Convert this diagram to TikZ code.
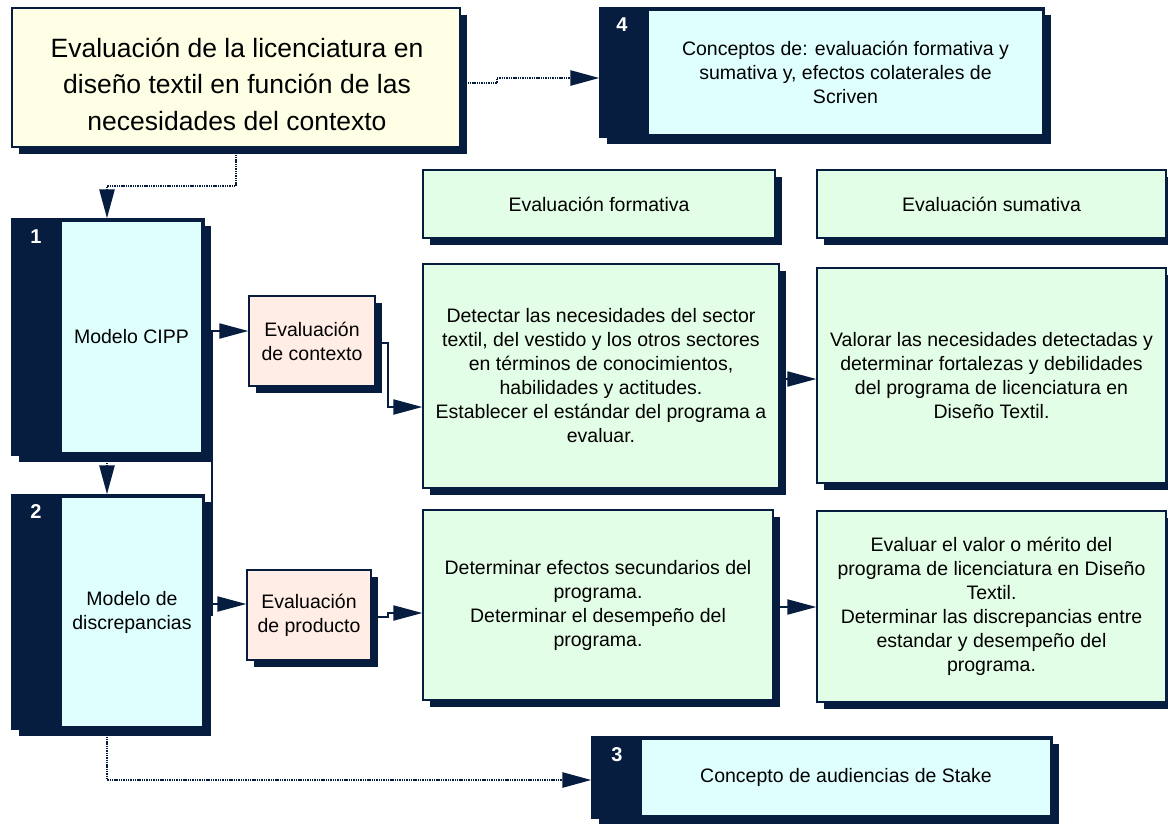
\documentclass[tikz,border=0pt]{standalone}
\usepackage{fontspec}
\setmainfont{Liberation Sans}
\usetikzlibrary{shadows,arrows.meta}
\definecolor{navy}{HTML}{061D3F}
\definecolor{cyanf}{HTML}{DFFFFF}
\definecolor{yelf}{HTML}{FFFFE6}
\definecolor{grnf}{HTML}{E3FEE6}
\definecolor{pchf}{HTML}{FFEDE6}
\begin{document}
\begin{tikzpicture}[x=1pt,y=-1pt,line join=miter,
  shad/.style={drop shadow={shadow xshift=7pt,shadow yshift=-7pt,fill=navy,opacity=1}},
  box/.style={draw=navy,line width=1.3pt,inner sep=0pt,rectangle},
  sz/.style 2 args={minimum width=#1pt,minimum height=#2pt},
  txt/.style={font=\fontsize{19.5}{24}\selectfont,align=center,text=black},
  num/.style={font=\fontsize{20}{24}\selectfont\bfseries,text=white,inner sep=0pt},
  plain/.style={draw=navy,line width=2pt},
  con/.style={plain,-{Triangle[length=29pt,width=15pt]}},
  dotc/.style={con,line width=2.6pt,dash pattern=on 1.4pt off 0.9pt}
]
\useasboundingbox (0,0) rectangle (1168,823);
\fill[white] (0,0) rectangle (1168,823);

% title
\node[box,shad,fill=yelf,sz={448}{139}] (title) at (236,77.5) {};
\node[txt,font=\fontsize{26.5}{36.5}\selectfont] (titletxt) at (237,84)
  {Evaluación de la licenciatura en\\diseño textil en función de las\\necesidades del contexto};

% box 4
\node[box,shad,fill=navy,sz={444}{129}] (b4o) at (822,72.5) {};
\node[box,fill=cyanf,sz={395}{125},txt] (b4) at (845.5,72.5)
  {Conceptos de: evaluación formativa y\\sumativa y, efectos colaterales de\\Scriven};
\node[num] (n4) at (622,25) {4};

% box 1
\node[box,shad,fill=navy,sz={192}{236}] (b1o) at (108,337) {};
\node[box,fill=cyanf,sz={141}{232},txt] (b1) at (131.5,337) {Modelo CIPP};
\node[num] (n1) at (36,237) {1};

% box 2
\node[box,shad,fill=navy,sz={192}{234}] (b2o) at (108,612) {};
\node[box,fill=cyanf,sz={142}{230},txt] (b2) at (132,612) {Modelo de\\discrepancias};
\node[num] (n2) at (36,512) {2};

% box 3
\node[box,shad,fill=navy,sz={460}{81}] (b3o) at (822,777.5) {};
\node[box,fill=cyanf,sz={410}{77},txt] (b3) at (846,777.5) {Concepto de audiencias de Stake};
\node[num] (n3) at (617,755) {3};

% evaluation boxes
\node[box,shad,fill=pchf,sz={126}{90},txt] (ctx) at (312,341) {Evaluación\\de contexto};
\node[box,shad,fill=pchf,sz={124}{90},txt] (prod) at (309,615) {Evaluación\\de producto};

\node[box,shad,fill=grnf,sz={352}{68},txt] (formH) at (599,204) {Evaluación formativa};
\node[box,shad,fill=grnf,sz={349}{68},txt] (sumH) at (991.5,204) {Evaluación sumativa};

\node[box,shad,fill=grnf,sz={356}{224},txt] (detect) at (601,376)
  {Detectar las necesidades del sector\\textil, del vestido y los otros sectores\\en términos de conocimientos,\\habilidades y actitudes.\\Establecer el estándar del programa a\\evaluar.};
\node[box,shad,fill=grnf,sz={349}{215},txt] (valorar) at (991.5,375.5)
  {Valorar las necesidades detectadas y\\determinar fortalezas y debilidades\\del programa de licenciatura en\\Diseño Textil.};
\node[box,shad,fill=grnf,sz={350}{190},txt] (determ) at (598,605)
  {Determinar efectos secundarios del\\programa.\\Determinar el desempeño del\\programa.};
\node[box,shad,fill=grnf,sz={349}{191},txt] (evaluar) at (991.5,606.5)
  {Evaluar el valor o mérito del\\programa de licenciatura en Diseño\\Textil.\\Determinar las discrepancias entre\\estandar y desempeño del\\programa.};

% dotted connectors
\coordinate (c1) at (107,186);
\draw[dotc] (title.south) |- (c1) -- (c1 |- b1o.north);
\coordinate (c2a) at (497,83);
\coordinate (c2b) at (497,78);
\draw[dotc] (title.east |- c2a) -- (c2a) -- (c2b) -- (b4o.west |- c2b);
\draw[dotc] (c1 |- b1o.south) -- (c1 |- b2o.north);
\coordinate (c4) at (107,780);
\draw[dotc] (c1 |- b2o.south) -- (c4) -- (b3o.west |- c4);

% solid connectors
\coordinate (t1) at (212,337);
\coordinate (t2) at (212,331);
\coordinate (t3) at (212,615);
\coordinate (t4) at (212,604);
\draw[con] (b1o.east |- t1) -- (t1) -- (t2) -- (ctx.west |- t2);
\draw[plain] (b2o.east |- t3) -- (t3) -- (t2);
\draw[con] (t4) -- (prod.west |- t4);

\coordinate (u1) at (388,343);
\coordinate (u2) at (388,407);
\draw[con] (ctx.east |- u1) -- (u1) -- (u2) -- (detect.west |- u2);
\coordinate (v1) at (388,617);
\coordinate (v2) at (388,613);
\draw[con] (prod.east |- v1) -- (v1) -- (v2) -- (determ.west |- v2);
\coordinate (w1) at (795,379);
\draw[con] (detect.east |- w1) -- (valorar.west |- w1);
\coordinate (w2) at (795,607);
\draw[con] (determ.east |- w2) -- (evaluar.west |- w2);
\end{tikzpicture}
\end{document}
